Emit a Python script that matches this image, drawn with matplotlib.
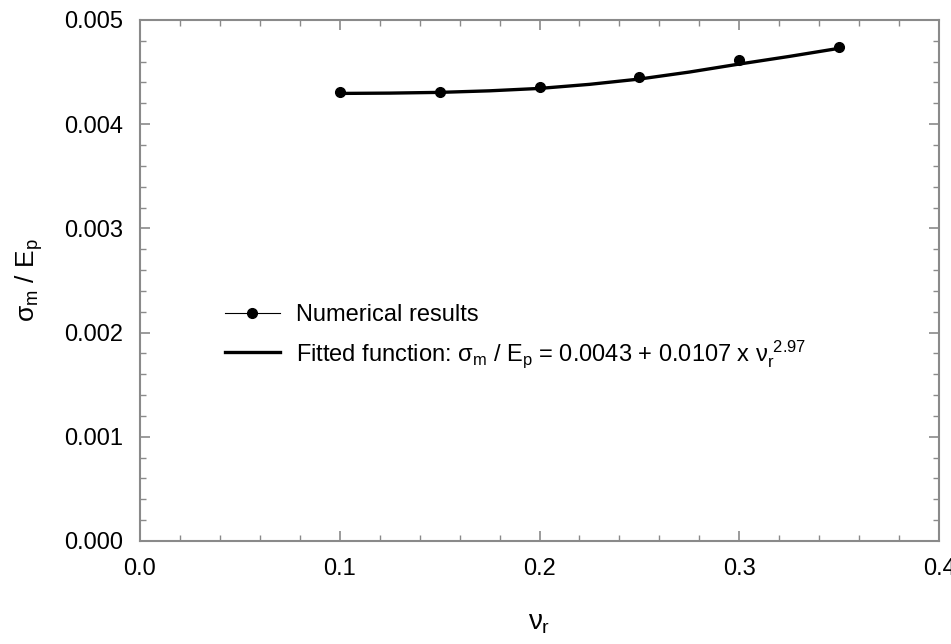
import numpy as np
import matplotlib.pyplot as plt
from matplotlib.ticker import MultipleLocator
from matplotlib.lines import Line2D

plt.rcParams['font.family'] = ['Liberation Sans', 'DejaVu Sans']
plt.rcParams['mathtext.fontset'] = 'custom'
plt.rcParams['mathtext.rm'] = 'Liberation Sans'
plt.rcParams['mathtext.it'] = 'Liberation Sans'
plt.rcParams['mathtext.bf'] = 'Liberation Sans:bold'

# valores
nu_r = [0.10, 0.15, 0.20, 0.25, 0.30, 0.35]
sigma_num = [0.004308, 0.004310, 0.004353, 0.004450, 0.004615, 0.004743]

nu_fit = [0.10, 0.125, 0.15, 0.175, 0.20, 0.225, 0.25, 0.275, 0.30, 0.325, 0.35]
sigma_fit = [0.004295, 0.004298, 0.004305, 0.004320, 0.004343, 0.004382,
             0.004433, 0.004500, 0.004577, 0.004650, 0.004728]

fig = plt.figure(figsize=(9.51, 6.44), dpi=100)
ax = fig.add_axes([0.1472, 0.16, 0.8402, 0.809])

ax.plot(nu_fit, sigma_fit, '-', color='black', lw=2.4)
ax.plot(nu_r, sigma_num, 'o', color='black', ms=7)

# leyenda: puntos con linea fina, ajuste con linea gruesa
h_num = Line2D([], [], color='black', lw=0.8, marker='o', ms=7)
h_fit = Line2D([], [], color='black', lw=2.4)
ax.legend([h_num, h_fit],
          ['Numerical results',
           r'Fitted function: $\sigma_m$ / E$_p$ = 0.0043 + 0.0107 x $\nu_r^{\ 2.97}$'],
          loc='upper left', bbox_to_anchor=(0.092, 0.477), frameon=False,
          fontsize=17, handlelength=2.3, handletextpad=0.7, labelspacing=0.5,
          borderpad=0)

ax.set_xlim(0, 0.4)
ax.set_ylim(0, 0.005)
ax.xaxis.set_major_locator(MultipleLocator(0.1))
ax.xaxis.set_minor_locator(MultipleLocator(0.02))
ax.yaxis.set_major_locator(MultipleLocator(0.001))
ax.yaxis.set_minor_locator(MultipleLocator(0.0002))
ax.xaxis.set_major_formatter(plt.FormatStrFormatter('%.1f'))
ax.yaxis.set_major_formatter(plt.FormatStrFormatter('%.3f'))

for s in ax.spines.values():
    s.set_color('#8a8a8a')
    s.set_linewidth(1.5)
ax.tick_params(which='both', direction='in', top=True, right=True, color='#8a8a8a')
ax.tick_params(which='major', length=7, width=1.2, labelsize=17, pad=12)
ax.tick_params(which='minor', length=4, width=1.0)

ax.set_xlabel(r'$\nu_r$', fontsize=20, labelpad=22)
ax.set_ylabel(r'$\sigma_m$ / E$_p$', fontsize=19, labelpad=14)

plt.savefig('out.png', dpi=100)
